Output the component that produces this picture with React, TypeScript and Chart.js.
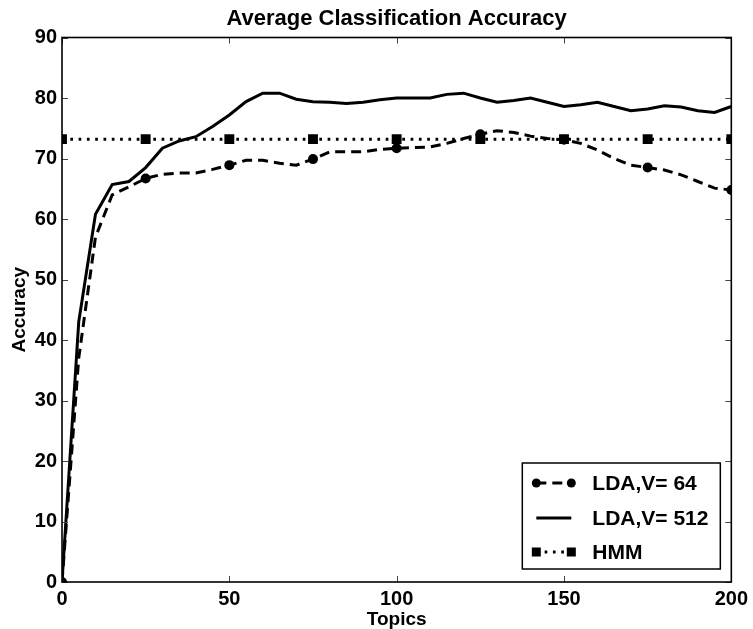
import React, { useEffect, useRef } from 'react';
import { Chart, registerables } from 'chart.js';

Chart.register(...registerables);

// ---- data ----
const topics = [0, 5, 10, 15, 20, 25, 30, 35, 40, 45, 50, 55, 60, 65, 70, 75, 80, 85, 90, 95, 100,
  105, 110, 115, 120, 125, 130, 135, 140, 145, 150, 155, 160, 165, 170, 175, 180, 185, 190, 195, 200];
const ldaV64 = [0, 37, 57, 64.0, 65.3, 66.7, 67.4, 67.6, 67.6, 68.2, 68.9, 69.7, 69.7, 69.2, 68.9, 69.9, 71.1,
  71.1, 71.1, 71.5, 71.7, 71.8, 71.9, 72.5, 73.3, 74.0, 74.6, 74.3, 73.7, 73.3, 73.1, 72.5, 71.4, 70.0,
  68.9, 68.5, 68.1, 67.3, 66.2, 65.1, 64.8];
const ldaV512 = [0, 43.0, 60.8, 65.7, 66.2, 68.5, 71.7, 72.9, 73.6, 75.3, 77.2, 79.4, 80.8, 80.8, 79.8, 79.4,
  79.3, 79.1, 79.3, 79.7, 80.0, 80.0, 80.0, 80.6, 80.8, 80.0, 79.3, 79.6, 80.0, 79.3, 78.6, 78.9, 79.3,
  78.6, 77.9, 78.2, 78.7, 78.5, 77.9, 77.6, 78.6];
const hmmTopics = [0, 25, 50, 75, 100, 125, 150, 175, 200];
const hmmAccuracy = [73.2, 73.2, 73.2, 73.2, 73.2, 73.2, 73.2, 73.2, 73.2];
const xTicks = [0, 50, 100, 150, 200];
const yTicks = [0, 10, 20, 30, 40, 50, 60, 70, 80, 90];
const seriesLabels = ['LDA,V= 64', 'LDA,V= 512', 'HMM'];
const chartTitle = 'Average Classification Accuracy';
const xTitle = 'Topics';
const yTitle = 'Accuracy';

const FONT = "'Liberation Sans', Arial, Helvetica, sans-serif";

const titlePlugin = {
  id: 'axesTitle',
  afterDraw(chart: any) {
    const { ctx, chartArea: a } = chart;
    ctx.save();
    ctx.fillStyle = '#000';
    ctx.font = `bold 22px ${FONT}`;
    ctx.textAlign = 'center';
    ctx.textBaseline = 'middle';
    ctx.fillText(chartTitle, (a.left + a.right) / 2, 19);
    ctx.restore();
  },
};

const framePlugin = {
  id: 'frameTicks',
  afterDatasetsDraw(chart: any) {
    const { ctx, chartArea: a, scales } = chart;
    ctx.save();
    ctx.strokeStyle = '#444';
    ctx.lineWidth = 1;
    const tl = 6;
    ctx.beginPath();
    for (const v of xTicks) {
      const px = Math.round(scales.x.getPixelForValue(v)) + 0.5;
      ctx.moveTo(px, a.bottom); ctx.lineTo(px, a.bottom - tl);
      ctx.moveTo(px, a.top); ctx.lineTo(px, a.top + tl);
    }
    for (const v of yTicks) {
      const py = Math.round(scales.y.getPixelForValue(v)) + 0.5;
      ctx.moveTo(a.left, py); ctx.lineTo(a.left + tl, py);
      ctx.moveTo(a.right, py); ctx.lineTo(a.right - tl, py);
    }
    ctx.stroke();
    ctx.strokeStyle = '#000';
    ctx.lineWidth = 1.6;
    ctx.strokeRect(a.left, a.top, a.right - a.left, a.bottom - a.top);
    ctx.restore();
  },
};

const legendPlugin = {
  id: 'insideLegend',
  afterDraw(chart: any) {
    const { ctx, chartArea: a } = chart;
    const w = 198, h = 106;
    const left = a.right - 209;
    const top = a.bottom - 119;
    ctx.save();
    ctx.fillStyle = '#fff';
    ctx.fillRect(left, top, w, h);
    ctx.strokeStyle = '#000';
    ctx.lineWidth = 1.5;
    ctx.strokeRect(left, top, w, h);
    const rows = [20, 55, 89];
    const x1 = left + 14, x2 = left + 49;
    chart.data.datasets.forEach((ds: any, i: number) => {
      const y = top + rows[i];
      ctx.strokeStyle = '#000';
      ctx.lineWidth = ds.borderWidth;
      ctx.setLineDash(ds.borderDash || []);
      ctx.lineCap = 'butt';
      ctx.beginPath();
      ctx.moveTo(x1, y); ctx.lineTo(x2, y);
      ctx.stroke();
      ctx.setLineDash([]);
      ctx.fillStyle = '#000';
      if (ds.pointStyle === 'circle') {
        for (const px of [x1, x2]) { ctx.beginPath(); ctx.arc(px, y, 4.5, 0, Math.PI * 2); ctx.fill(); }
      } else if (ds.pointStyle === 'rect') {
        for (const px of [x1, x2]) ctx.fillRect(px - 4.5, y - 4.5, 9, 9);
      }
      ctx.font = `bold 21px ${FONT}`;
      ctx.textBaseline = 'middle';
      ctx.textAlign = 'left';
      ctx.fillText(ds.label, left + 70, y + 1);
    });
    ctx.restore();
  },
};

export default function App() {
  const ref = useRef<HTMLCanvasElement>(null);
  useEffect(() => {
    document.body.style.margin = '0';
    const chart = new Chart(ref.current as HTMLCanvasElement, {
      type: 'line',
      data: {
        datasets: [
          {
            label: seriesLabels[0],
            data: topics.map((t, i) => ({ x: t, y: ldaV64[i] })),
            borderColor: '#000',
            backgroundColor: '#000',
            borderWidth: 3,
            borderDash: [10, 6],
            pointStyle: 'circle',
            pointRadius: (c: any) => (c.dataIndex % 5 === 0 ? 5 : 0),
            pointBorderWidth: 0,
            pointBackgroundColor: '#000',
            tension: 0,
            clip: 0,
            order: 3,
          } as any,
          {
            label: seriesLabels[1],
            data: topics.map((t, i) => ({ x: t, y: ldaV512[i] })),
            borderColor: '#000',
            backgroundColor: '#000',
            borderWidth: 3,
            pointRadius: 0,
            pointStyle: false,
            tension: 0,
            clip: 0,
            order: 2,
          } as any,
          {
            label: seriesLabels[2],
            data: hmmTopics.map((t, i) => ({ x: t, y: hmmAccuracy[i] })),
            borderColor: '#000',
            backgroundColor: '#000',
            borderWidth: 3,
            borderDash: [2.7, 5.6],
            pointStyle: 'rect',
            pointRadius: 7,
            pointBorderWidth: 0,
            pointBackgroundColor: '#000',
            tension: 0,
            clip: 0,
            order: 1,
          } as any,
        ],
      },
      options: {
        responsive: false,
        devicePixelRatio: 1,
        animation: false,
        events: [],
        layout: { padding: { left: 0, right: 20, top: 37.5, bottom: 0 } },
        plugins: {
          legend: { display: false },
          tooltip: { enabled: false },
          title: { display: false },
        },
        scales: {
          x: {
            type: 'linear',
            min: 0,
            max: 200,
            afterFit: (s: any) => { s.height = 47; },
            afterBuildTicks: (s: any) => { s.ticks = xTicks.map((v) => ({ value: v })); },
            grid: { display: false, drawTicks: false },
            border: { display: false },
            ticks: {
              color: '#000',
              padding: 5,
              maxRotation: 0,
              font: { family: FONT, size: 20, weight: 'bold' },
            },
            title: {
              display: true,
              text: xTitle,
              color: '#000',
              padding: { top: 0, bottom: 0 },
              font: { family: FONT, size: 19, weight: 'bold', lineHeight: 1 },
            },
          },
          y: {
            type: 'linear',
            min: 0,
            max: 90,
            afterFit: (s: any) => { s.width = 62; },
            afterBuildTicks: (s: any) => { s.ticks = yTicks.map((v) => ({ value: v })); },
            grid: { display: false, drawTicks: false },
            border: { display: false },
            ticks: {
              color: '#000',
              padding: 5,
              font: { family: FONT, size: 20, weight: 'bold' },
            },
            title: {
              display: true,
              text: yTitle,
              color: '#000',
              padding: { top: 8, bottom: 0 },
              font: { family: FONT, size: 19, weight: 'bold', lineHeight: 1.2 },
            },
          },
        },
      } as any,
      plugins: [framePlugin, legendPlugin, titlePlugin],
    });
    return () => chart.destroy();
  }, []);
  return (
    <div style={{ position: 'absolute', left: 0, top: 0, width: 753, height: 629 }}>
      <canvas ref={ref} width={753} height={629} style={{ display: 'block', width: 753, height: 629 }} />
    </div>
  );
}
